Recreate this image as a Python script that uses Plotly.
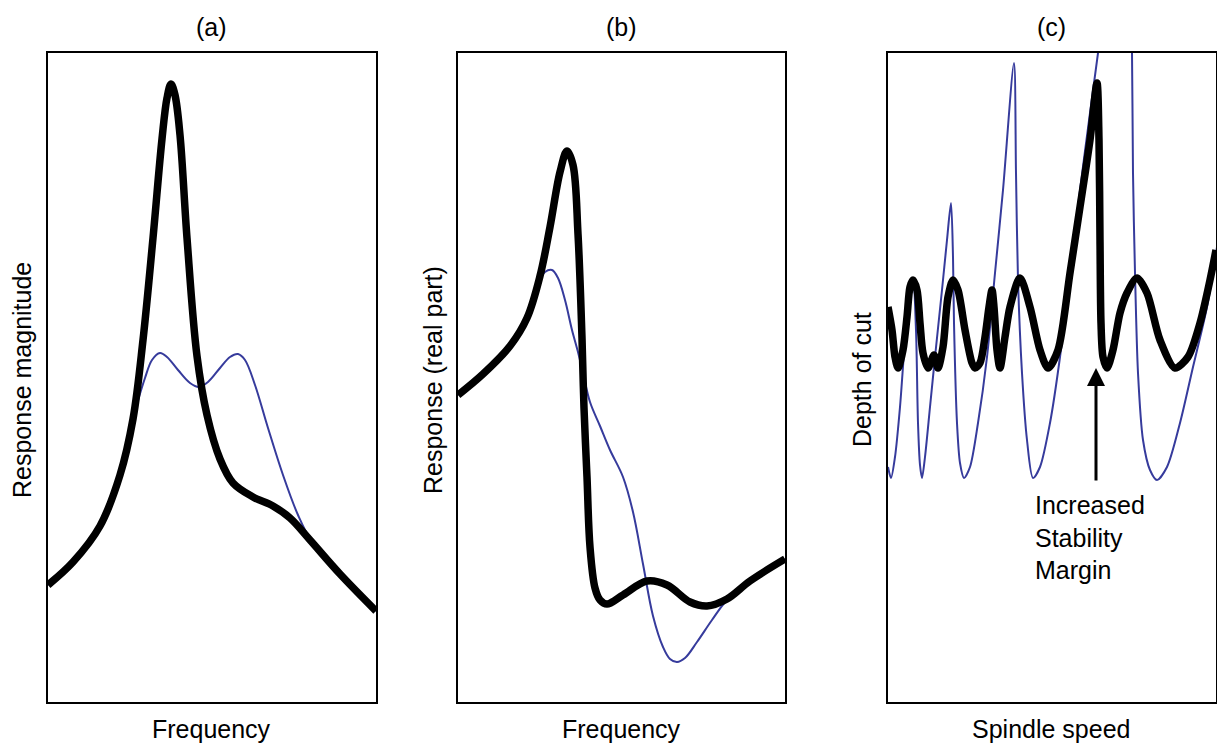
import plotly.graph_objects as go

# Panel (a): response magnitude vs frequency (arbitrary units)
a_black_x = [0, 25, 52, 72, 85, 95, 105, 114, 119, 123, 127, 132, 139, 149, 159, 172, 185, 205, 225, 242, 262, 292, 328]
a_black_y = [117, 140, 176, 227, 283, 362, 464, 563, 604, 618, 607, 567, 464, 346, 287, 243, 219, 205, 196, 184, 162, 128, 91]
a_blue_x = [0, 25, 52, 72, 85, 89, 97, 104, 112, 119, 130, 142, 151, 160, 172, 182, 190, 197, 207, 220, 235, 250, 264, 292, 328]
a_blue_y = [117, 140, 176, 227, 283, 298, 324, 342, 349, 345, 332, 319, 315, 320, 334, 345, 348, 342, 317, 274, 227, 187, 160, 128, 91]

# Panel (b): response real part vs frequency
b_black_x = [0, 25, 52, 69, 82, 92, 102, 109, 115, 120, 124, 126, 129, 132, 137, 142, 149, 165, 189, 209, 232, 249, 269, 292, 327]
b_black_y = [307, 328, 356, 384, 426, 475, 530, 551, 537, 468, 364, 294, 225, 155, 114, 102, 98, 107, 121, 117, 100, 96, 103, 121, 143]
b_blue_x = [0, 25, 52, 69, 80, 87, 94, 100, 107, 114, 120, 125, 132, 142, 152, 165, 175, 185, 195, 205, 212, 219, 227, 239, 254, 269, 292, 327]
b_blue_y = [307, 328, 356, 384, 419, 430, 432, 424, 402, 372, 350, 329, 300, 276, 252, 225, 190, 138, 86, 55, 43, 40, 44, 60, 82, 102, 121, 143]

# Panel (c): depth of cut vs spindle speed (stability lobes)
c_black_x = [0, 4, 7, 10, 15, 19, 22, 25, 29, 32, 35, 40, 46, 50, 55, 60, 65, 70, 77, 84, 87, 92, 97, 101, 104, 106, 109, 112,
             117, 122, 132, 142, 152, 160, 170, 182, 192, 202, 209, 211, 212, 213, 215, 219, 225, 232, 239, 249, 259, 272, 287,
             300, 312, 322, 328]
c_black_y = [395, 372, 345, 334, 352, 385, 415, 422, 412, 379, 349, 334, 347, 334, 355, 405, 422, 412, 372, 339, 334, 339, 365, 395, 412, 395, 352, 334,
             365, 395, 424, 395, 352, 334, 352, 429, 495, 562, 619, 562, 462, 379, 345, 334, 352, 389, 409, 424, 409, 362, 334,
             345, 379, 422, 452]
c_blue_x = [0, 3, 7, 12, 17, 22, 25, 28, 30, 32, 34, 37, 42, 47, 54, 59, 63, 65, 66, 69, 72, 76, 82, 90, 99, 107, 115, 126,
            128, 130, 134, 139, 145, 152, 162, 172, 182, 192, 202, 210, 240, 244, 245, 247, 250, 255, 262, 269, 279, 292, 305,
            319, 329]
c_blue_y = [235, 224, 245, 295, 362, 412, 424, 372, 279, 237, 224, 245, 295, 345, 412, 462, 499, 445, 379, 279, 239, 224, 235, 279, 345, 429, 512, 639,
            529, 422, 329, 262, 224, 235, 279, 345, 429, 512, 589, 649, 882, 649, 529, 429, 329, 262, 232, 222, 235, 279, 335,
            395, 455]

BLUE = "#363b9c"
BLACK = "#000000"
FONT = "Liberation Sans, Arial, Helvetica, sans-serif"

fig = go.Figure()

def add_pair(bx, by, kx, ky, xa, ya, smooth):
    fig.add_trace(go.Scatter(x=bx, y=by, mode="lines", xaxis=xa, yaxis=ya,
                             line=dict(color=BLUE, width=2, shape="spline", smoothing=smooth),
                             hoverinfo="skip", showlegend=False))
    fig.add_trace(go.Scatter(x=kx, y=ky, mode="lines", xaxis=xa, yaxis=ya,
                             line=dict(color=BLACK, width=7.5, shape="spline", smoothing=smooth),
                             hoverinfo="skip", showlegend=False))

add_pair(a_blue_x, a_blue_y, a_black_x, a_black_y, "x", "y", 1.0)
add_pair(b_blue_x, b_blue_y, b_black_x, b_black_y, "x2", "y2", 1.0)
add_pair(c_blue_x, c_blue_y, c_black_x, c_black_y, "x3", "y3", 0.8)

W, H = 1217, 751
ydom = [49 / H, 698 / H]
xdoms = [[48 / W, 376 / W], [458 / W, 785 / W], [888 / W, 1216 / W]]
xranges = [[0, 328], [0, 327], [0, 328]]

axis_common = dict(showgrid=False, zeroline=False, showticklabels=False, ticks="",
                   showline=True, linecolor="black", linewidth=2, mirror=True, fixedrange=True)

layout = dict(width=W, height=H, margin=dict(l=0, r=0, t=0, b=0),
              paper_bgcolor="white", plot_bgcolor="white", showlegend=False)
for i in range(3):
    sx = "" if i == 0 else str(i + 1)
    layout["xaxis" + sx] = dict(domain=xdoms[i], range=xranges[i], anchor="y" + sx, **axis_common)
    layout["yaxis" + sx] = dict(domain=ydom, range=[0, 649], anchor="x" + sx, **axis_common)
fig.update_layout(**layout)

def ann(text, x, y, angle=0, xanchor="center", align="center"):
    fig.add_annotation(text=text, x=x / W, y=(H - y) / H, xref="paper", yref="paper",
                       showarrow=False, textangle=angle, xanchor=xanchor, yanchor="middle",
                       align=align, font=dict(family=FONT, size=25, color="black"))

panel_titles = ["(a)", "(b)", "(c)"]
x_titles = ["Frequency", "Frequency", "Spindle speed"]
y_titles = ["Response magnitude", "Response (real part)", "Depth of cut"]
title_cx = [211, 621, 1051]
ytitle_cx = [22, 433, 862]
for i in range(3):
    ann(panel_titles[i], title_cx[i], 27)
    ann(x_titles[i], title_cx[i], 729)
    ann(y_titles[i], ytitle_cx[i], 380, angle=-90)

ann("Increased<br>Stability<br>Margin", 1033, 537, xanchor="left", align="left")

fig.add_annotation(x=208, y=334, xref="x3", yref="y3", ax=0, ay=114, axref="pixel", ayref="pixel",
                   text="", showarrow=True, arrowhead=2, arrowsize=1.2, arrowwidth=3, arrowcolor="black")

fig.write_html("out.html")
